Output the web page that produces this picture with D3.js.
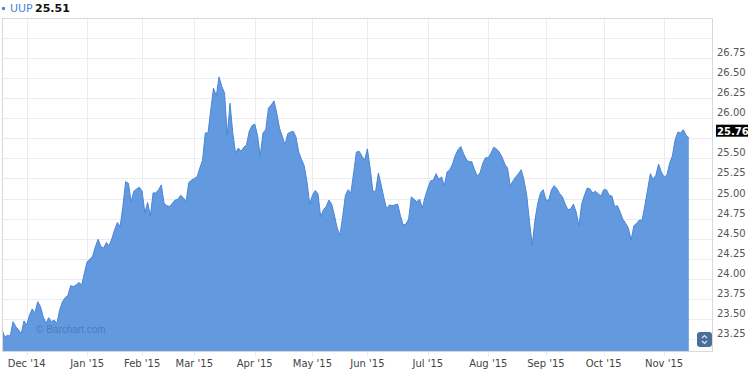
<!DOCTYPE html>
<html>
<head>
<meta charset="utf-8">
<script src="https://cdn.jsdelivr.net/npm/d3@7"></script>
<style>
  body { margin: 0; background: #fff; }
  svg { display: block; font-family: "DejaVu Sans", Verdana, sans-serif; }
</style>
</head>
<body>
<div id="chart"></div>
<script>
// UUP daily closes, one per trading day, 17 Nov 2014 -> 13 Nov 2015
var symbol = "UUP";
var quote = "25.51";
var closes = [
  23.36, 23.27, 23.29, 23.28, 23.46, 23.40, 23.36, 23.31, 23.47,
  23.42, 23.54, 23.62, 23.57, 23.71, 23.65, 23.52, 23.44, 23.51, 23.46,
  23.48, 23.44, 23.61, 23.71, 23.76, 23.79, 23.91, 23.90, 23.92, 23.95,
  23.92, 24.07, 24.21, 24.24, 24.28, 24.40, 24.49, 24.40, 24.38, 24.45,
  24.41, 24.50, 24.61, 24.70, 24.65, 24.90, 25.21, 25.19, 24.96, 25.09,
  25.12, 25.14, 25.09, 24.82, 24.95, 24.78, 25.07, 25.07, 25.11, 25.17,
  24.94, 24.91, 24.90, 24.94, 24.98, 24.99, 25.04, 25.01, 24.96, 25.20,
  25.23, 25.25, 25.27, 25.38, 25.48, 25.82, 25.82, 26.11, 26.38, 26.28,
  26.52, 26.40, 26.32, 25.79, 26.19, 25.82, 25.57, 25.63, 25.59, 25.64,
  25.67, 25.84, 25.91, 25.93, 25.79, 25.53, 25.82, 25.86, 26.13, 26.17,
  26.22, 26.07, 25.88, 25.78, 25.67, 25.81, 25.83, 25.84, 25.77, 25.58,
  25.49, 25.41, 25.21, 24.93, 25.04, 25.10, 25.06, 24.77, 24.86, 24.90,
  24.98, 24.93, 24.79, 24.63, 24.54, 24.77, 25.04, 25.11, 25.07, 25.32,
  25.58, 25.59, 25.53, 25.48, 25.62, 25.38, 25.09, 25.09, 25.32, 25.17,
  25.01, 24.87, 24.92, 24.91, 24.92, 24.93, 24.79, 24.67, 24.68, 24.74,
  25.02, 24.99, 24.96, 24.99, 24.88, 25.02, 25.13, 25.22, 25.23, 25.31,
  25.24, 25.27, 25.16, 25.33, 25.36, 25.43, 25.54, 25.61, 25.65, 25.56,
  25.49, 25.46, 25.46, 25.36, 25.28, 25.32, 25.44, 25.51, 25.51, 25.57,
  25.64, 25.62, 25.58, 25.52, 25.43, 25.38, 25.16, 25.22, 25.27, 25.31,
  25.36, 25.23, 25.04, 24.71, 24.42, 24.73, 24.94, 25.07, 25.11, 24.98,
  24.98, 25.11, 25.16, 25.12, 25.06, 25.02, 24.93, 24.86, 24.87, 24.93,
  24.83, 24.66, 24.93, 25.04, 25.13, 25.12, 25.07, 25.09, 25.06, 25.03,
  25.11, 25.11, 25.04, 25.03, 24.90, 24.91, 24.83, 24.74, 24.69, 24.63,
  24.48, 24.66, 24.69, 24.73, 24.73, 24.91, 25.11, 25.31, 25.24, 25.29,
  25.43, 25.33, 25.27, 25.29, 25.44, 25.53, 25.73, 25.83, 25.82, 25.86,
  25.79, 25.76
];

// first trading day of each month, as an index into closes
var monthLabels = ["Dec '14", "Jan '15", "Feb '15", "Mar '15", "Apr '15", "May '15",
                   "Jun '15", "Jul '15", "Aug '15", "Sep '15", "Oct '15", "Nov '15"];
var monthStarts = [9, 31, 51, 70, 92, 113, 133, 155, 177, 198, 219, 241];

var priceTicks = [23.25, 23.50, 23.75, 24.00, 24.25, 24.50, 24.75, 25.00,
                  25.25, 25.50, 25.75, 26.00, 26.25, 26.50, 26.75, 27.00];
var priceLabels = priceTicks.slice(0, -1);

// Set up chart
var svgWidth = 750;
var svgHeight = 372;
var margin = {top: 18, right: 37, bottom: 21, left: 2};
var width = svgWidth - margin.left - margin.right;
var height = svgHeight - margin.top - margin.bottom;

var svg = d3.select("#chart")
    .append("svg")
    .attr("width", svgWidth)
    .attr("height", svgHeight);

var chartGroup = svg.append("g")
    .attr("transform", `translate(${margin.left}, ${margin.top})`);

var xScale = d3.scaleLinear()
    .domain([0, 258.8])
    .range([0, width]);

var yScale = d3.scaleLinear()
    .domain([23.094, 27.256])
    .range([height, 0]);

// Grid
chartGroup.append("g")
    .selectAll("line")
    .data(priceTicks)
    .enter()
    .append("line")
    .attr("x1", 0)
    .attr("x2", width)
    .attr("y1", d => Math.round(yScale(d)) + 0.5)
    .attr("y2", d => Math.round(yScale(d)) + 0.5)
    .attr("stroke", "#ececec");

chartGroup.append("g")
    .selectAll("line")
    .data(monthStarts)
    .enter()
    .append("line")
    .attr("x1", d => Math.round(xScale(d)) + 0.5)
    .attr("x2", d => Math.round(xScale(d)) + 0.5)
    .attr("y1", 0)
    .attr("y2", height + 5)
    .attr("stroke", "#ececec");

// Price area
var area = d3.area()
    .x((d, i) => xScale(i))
    .y0(height)
    .y1(d => yScale(d));

var line = d3.line()
    .x((d, i) => xScale(i))
    .y(d => yScale(d));

chartGroup.append("path")
    .datum(closes)
    .attr("d", area)
    .attr("fill", "rgb(87,145,221)")
    .attr("fill-opacity", 0.93);

chartGroup.append("path")
    .datum(closes)
    .attr("d", line)
    .attr("fill", "none")
    .attr("stroke", "#4a86d6")
    .attr("stroke-width", 1);

// watermark
chartGroup.append("text")
    .attr("x", 34)
    .attr("y", height - 18)
    .style("font-family", "'Liberation Sans', Arial, sans-serif")
    .style("font-size", "10px")
    .style("fill", "#3f6fae")
    .style("fill-opacity", 0.7)
    .text("\u00a9 Barchart.com");

// Frame
chartGroup.append("rect")
    .attr("x", 0.5)
    .attr("y", 0.5)
    .attr("width", width - 1)
    .attr("height", height)
    .attr("fill", "none")
    .attr("stroke", "#d8d8d8");

// x axis labels
chartGroup.append("g")
    .selectAll("text")
    .data(monthStarts)
    .enter()
    .append("text")
    .attr("x", d => xScale(d))
    .attr("y", height + 16)
    .style("font-size", "10px")
    .style("text-anchor", "middle")
    .style("fill", "#444")
    .text((d, i) => monthLabels[i]);

// y axis labels, right side
var last = closes[closes.length - 1];
var lastY = yScale(last);

chartGroup.append("g")
    .selectAll("text")
    .data(priceLabels.filter(d => Math.abs(yScale(d) - lastY) > 12))
    .enter()
    .append("text")
    .attr("x", width + 4)
    .attr("y", d => yScale(d) - 2)
    .style("font-size", "10px")
    .style("fill", "#555")
    .text(d => d3.format(".2f")(d));

chartGroup.append("rect")
    .attr("x", width + 3)
    .attr("y", lastY - 13)
    .attr("width", 32)
    .attr("height", 12)
    .attr("fill", "#000");

chartGroup.append("text")
    .attr("x", width + 4)
    .attr("y", lastY - 3)
    .style("font-size", "10px")
    .style("font-weight", "bold")
    .style("fill", "#fff")
    .text(d3.format(".2f")(last));

// scroll button
var btn = chartGroup.append("g")
    .attr("transform", `translate(${width - 16}, ${height - 19})`);

btn.append("rect")
    .attr("width", 15)
    .attr("height", 15)
    .attr("rx", 3)
    .attr("fill", "#4b6f97");

btn.append("path")
    .attr("d", "M5,6 L7.5,3.5 L10,6 M5,9 L7.5,11.5 L10,9")
    .attr("fill", "none")
    .attr("stroke", "#dbe6f2")
    .attr("stroke-width", 1.2);

// Legend
var legend = svg.append("g");

legend.append("circle")
    .attr("cx", 3.5)
    .attr("cy", 8.5)
    .attr("r", 1.7)
    .attr("fill", "#4a86d6");

legend.append("text")
    .attr("x", 10)
    .attr("y", 12)
    .style("font-size", "11px")
    .style("fill", "#4a86d6")
    .text(symbol);

legend.append("text")
    .attr("x", 35)
    .attr("y", 12)
    .style("font-size", "11px")
    .style("font-weight", "bold")
    .style("fill", "#111")
    .text(quote);
</script>
</body>
</html>
